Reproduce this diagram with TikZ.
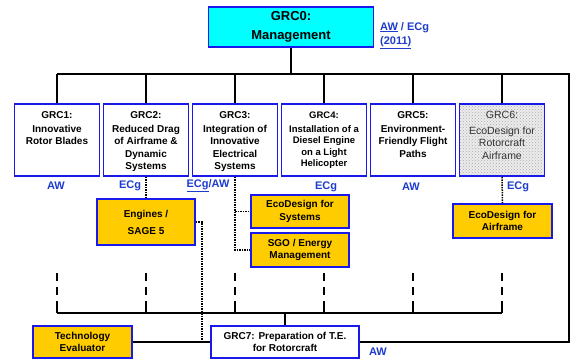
\documentclass[tikz,border=0pt]{standalone}
\usepackage{fontspec}
\setmainfont{Liberation Sans}
\usepackage{xcolor}
\usepackage{tikz}
\usetikzlibrary{positioning, patterns}
\definecolor{grcblue}{RGB}{25,25,235}
\definecolor{tagblue}{RGB}{30,60,205}
\definecolor{wpcyan}{RGB}{0,255,255}
\definecolor{wporange}{RGB}{255,204,0}
\tikzstyle{topbox} = [rectangle, minimum width=165pt, minimum height=40pt, inner sep=0pt, align=center, draw=grcblue, line width=1.8pt, fill=wpcyan, font=\fontsize{13}{19}\selectfont\bfseries]
\tikzstyle{grcbox} = [rectangle, minimum width=85pt, minimum height=72pt, inner sep=0pt, draw=grcblue, line width=1.8pt, fill=white, font=\fontsize{10}{12.5}\selectfont\bfseries]
\tikzstyle{taskbox} = [rectangle, minimum width=98pt, minimum height=33pt, inner sep=0pt, align=center, draw=grcblue, line width=1.8pt, fill=wporange, font=\fontsize{10}{12.5}\selectfont\bfseries]
\tikzstyle{tag} = [inner sep=0pt, text=tagblue, font=\fontsize{11}{14}\selectfont\bfseries]
\tikzstyle{bus} = [line width=1.6pt]
\tikzstyle{dotline} = [line width=1.5pt, densely dotted]
\tikzstyle{dashline} = [line width=1.6pt, dash pattern=on 8pt off 6pt]
\newcommand{\boxtext}[1]{\parbox[c][57pt][t]{83pt}{\centering #1}}

\begin{document}
\begin{tikzpicture}[node distance=89pt, x=1pt, y=-1pt]
  \useasboundingbox (0,0) rectangle (571,360);

  \node (grc0) [topbox] at (291,27) {GRC0:\\Management};
  \node (lead) [tag, align=left, anchor=north west] at (380,22) {\underline{AW} / ECg\\\underline{(2011)}};

  \node (grc1) [grcbox] at (57,140) {\boxtext{GRC1:\\[1.5pt]Innovative\\Rotor Blades}};
  \node (grc2) [grcbox, right of=grc1] {\boxtext{GRC2:\\[1.5pt]Reduced Drag\\of Airframe \&\\Dynamic\\Systems}};
  \node (grc3) [grcbox, right of=grc2] {\boxtext{GRC3:\\[1.5pt]Integration of\\Innovative\\Electrical\\Systems}};
  \node (grc4) [grcbox, right of=grc3, font=\fontsize{9.5}{11.5}\selectfont\bfseries] {\boxtext{GRC4:\\[2.5pt]Installation of a\\Diesel Engine\\on a Light\\Helicopter}};
  \node (grc5) [grcbox, right of=grc4] {\boxtext{GRC5:\\[1.5pt]Environment-\\Friendly Flight\\Paths}};
  \node (grc6) [grcbox, right of=grc5, preaction={fill=gray!15}, pattern=crosshatch dots, pattern color=gray!65, text=black!80, font=\fontsize{10.5}{12.5}\selectfont] {\boxtext{GRC6:\\[3pt]EcoDesign for\\Rotorcraft\\Airframe}};

  \node (tag1) [tag] at (56,186) {AW};
  \node (tag2) [tag] at (130,186) {ECg};
  \node (tag3) [tag] at (208,186) {\underline{ECg}/AW};
  \node (tag4) [tag] at (326,187) {ECg};
  \node (tag5) [tag] at (411,187) {AW};
  \node (tag6) [tag] at (518,187) {ECg};

  \node (engines) [taskbox, minimum height=46pt, font=\fontsize{10}{17}\selectfont\bfseries] at (146,222) {Engines /\\SAGE 5};
  \node (ecosys) [taskbox] at (300,211.5) {EcoDesign for\\Systems};
  \node (sgo) [taskbox, minimum height=34pt] at (300,250) {SGO / Energy\\Management};
  \node (airframe) [taskbox, minimum width=99pt, minimum height=34pt] at (502.5,221) {EcoDesign for\\Airframe};

  \node (eval) [taskbox, minimum width=99pt, minimum height=32pt] at (82.5,342) {Technology\\Evaluator};
  \node (grc7) [taskbox, minimum width=148pt, minimum height=32pt, fill=white] at (285,342) {GRC7: Preparation of T.E.\\for Rotorcraft};
  \node (tag7) [tag] at (378,352) {AW};

  \coordinate (corner) at (569,74);
  \coordinate (sagedrop) at (202,342);
  \coordinate (dashtop) at (0,273);
  \coordinate (dashend) at (0,296);
  \coordinate (solidtop) at (0,301);
  \coordinate (low) at (0,313);

  % upper tree and return loop
  \draw[bus] (grc0.south) -- (grc0.south |- corner);
  \draw[bus] (grc1.north |- corner) -- (corner) -- (corner |- grc7.east) -- (grc7.east);
  \foreach \i in {1,...,6}
    \draw[bus] (grc\i.north) -- (grc\i.north |- corner);

  % lower tree
  \foreach \i in {1,...,6} {
    \draw[dashline] (grc\i.south |- dashtop) -- (grc\i.south |- dashend);
    \draw[bus] (grc\i.south |- solidtop) -- (grc\i.south |- low);
  }
  \draw[bus] (grc1.south |- low) -- (grc6.south |- low);
  \draw[bus] (grc7.north) -- (grc7.north |- low);
  \draw[bus] (eval.east) -- (grc7.west);

  % dotted links
  \draw[dotline] (grc2.south) -- (engines.north);
  \draw[dotline] (engines.east) -| (sagedrop);
  \draw[dotline] (grc3.south) |- (ecosys.west);
  \draw[dotline] (grc3.south) |- (sgo.west);
  \draw[dotline] (grc6.south) -- (airframe.north);
\end{tikzpicture}
\end{document}
